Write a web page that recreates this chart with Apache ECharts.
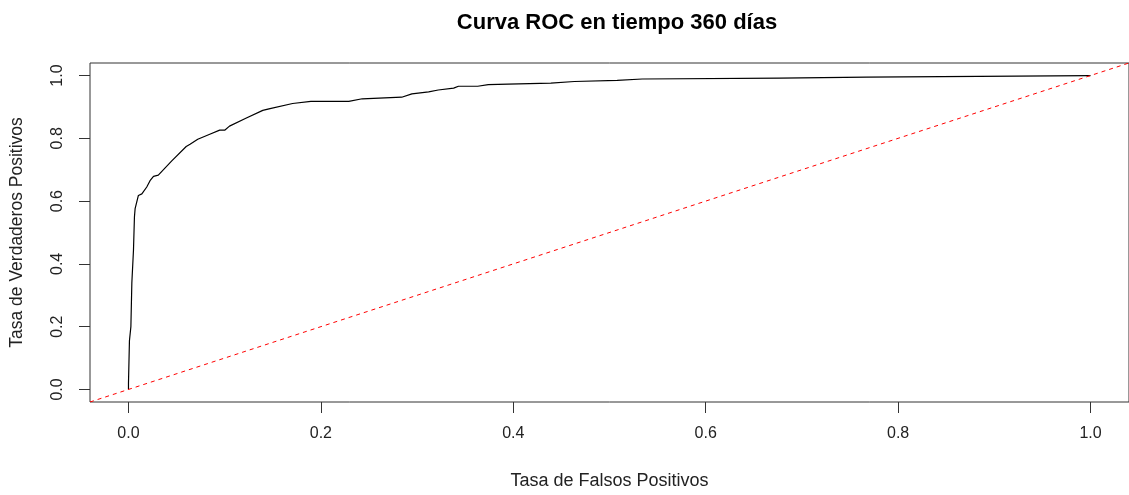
<!DOCTYPE html>
<html>
<head>
<meta charset="utf-8">
<script src="https://cdn.jsdelivr.net/npm/echarts@6/dist/echarts.min.js"></script>
<style>
  html, body { margin: 0; padding: 0; background: #fff; }
  #chart { width: 1129px; height: 495px; }
</style>
</head>
<body>
<div id="chart"></div>
<script>
// ROC curve at 360 days: false positive rate vs true positive rate
const fpr = [0, 0, 0.001, 0.001, 0.0025, 0.0025, 0.0035, 0.0035, 0.0052, 0.0052, 0.0062, 0.0062,
  0.0069, 0.0103, 0.0139, 0.019, 0.0224, 0.026, 0.031, 0.045, 0.060, 0.064, 0.072, 0.0845,
  0.0948, 0.100, 0.105, 0.122, 0.1396, 0.146, 0.1706, 0.1896, 0.229, 0.231, 0.243, 0.245,
  0.284, 0.286, 0.2946, 0.312, 0.322, 0.338, 0.343, 0.363, 0.365, 0.374, 0.3945, 0.396,
  0.439, 0.441, 0.4635, 0.465, 0.508, 0.510, 0.534, 0.536, 0.677, 0.679, 0.767, 0.768, 1.0];
const tpr = [0, 0.02, 0.02, 0.155, 0.155, 0.20, 0.20, 0.34, 0.34, 0.444, 0.444, 0.55,
  0.576, 0.618, 0.623, 0.645, 0.665, 0.679, 0.683, 0.728, 0.774, 0.781, 0.797, 0.813,
  0.826, 0.826, 0.839, 0.864, 0.889, 0.894, 0.911, 0.918, 0.918, 0.924, 0.926, 0.931,
  0.931, 0.937, 0.9415, 0.948, 0.954, 0.960, 0.966, 0.966, 0.969, 0.971, 0.973, 0.976,
  0.976, 0.981, 0.981, 0.9845, 0.9845, 0.989, 0.989, 0.992, 0.992, 0.995, 0.995, 1.0, 1.0];

// Reference diagonal (random classifier), spanning the full plot range
const diagX = [-0.04, 1.04];
const diagY = [-0.04, 1.04];

const tickValues = [0, 0.2, 0.4, 0.6, 0.8, 1.0];
const tickLabels = ['0.0', '0.2', '0.4', '0.6', '0.8', '1.0'];

const titleText = 'Curva ROC en tiempo 360 días';
const xName = 'Tasa de Falsos Positivos';
const yName = 'Tasa de Verdaderos Positivos';

const font = 'Arial, "Liberation Sans", sans-serif';
const fmt = v => {
  const i = tickValues.findIndex(t => Math.abs(t - v) < 1e-9);
  return i >= 0 ? tickLabels[i] : '';
};

const chart = echarts.init(document.getElementById('chart'), null, { renderer: 'canvas' });
chart.setOption({
  animation: false,
  backgroundColor: '#fff',
  title: {
    text: titleText,
    left: 612, top: 7,
    textAlign: 'center',
    textStyle: { fontFamily: font, fontSize: 22, fontWeight: 'bold', color: '#000' }
  },
  grid: {
    left: 90, top: 63, width: 1044, height: 342,
    show: true, borderColor: '#333', borderWidth: 1, backgroundColor: 'transparent'
  },
  xAxis: {
    type: 'value', min: -0.04, max: 1.04,
    name: xName, nameLocation: 'middle', nameGap: 70,
    nameTextStyle: { fontFamily: font, fontSize: 18, color: '#222' },
    axisLine: { show: false, onZero: false },
    splitLine: { show: false },
    axisTick: { show: true, inside: false, length: 11, customValues: tickValues, lineStyle: { color: '#333', width: 1 } },
    axisLabel: { customValues: tickValues, formatter: fmt, margin: 24,
      fontFamily: font, fontSize: 16, color: '#222' }
  },
  yAxis: {
    type: 'value', min: -0.04, max: 1.04,
    name: yName, nameLocation: 'middle', nameGap: 64, nameRotate: 90,
    nameTextStyle: { fontFamily: font, fontSize: 17.5, color: '#222' },
    axisLine: { show: false, onZero: false },
    splitLine: { show: false },
    axisTick: { show: true, inside: false, length: 11, customValues: tickValues, lineStyle: { color: '#333', width: 1 } },
    axisLabel: { customValues: tickValues, formatter: fmt, margin: 24, rotate: 90,
      fontFamily: font, fontSize: 16, color: '#222' }
  },
  series: [
    {
      type: 'line',
      data: fpr.map((x, i) => [x, tpr[i]]),
      showSymbol: false, symbol: 'none',
      lineStyle: { color: '#000', width: 1.2 },
      clip: true, silent: true
    },
    {
      type: 'line',
      data: diagX.map((x, i) => [x, diagY[i]]),
      showSymbol: false, symbol: 'none',
      lineStyle: { color: '#ff0000', width: 1, type: [4, 4] },
      clip: true, silent: true
    }
  ]
});
</script>
</body>
</html>
